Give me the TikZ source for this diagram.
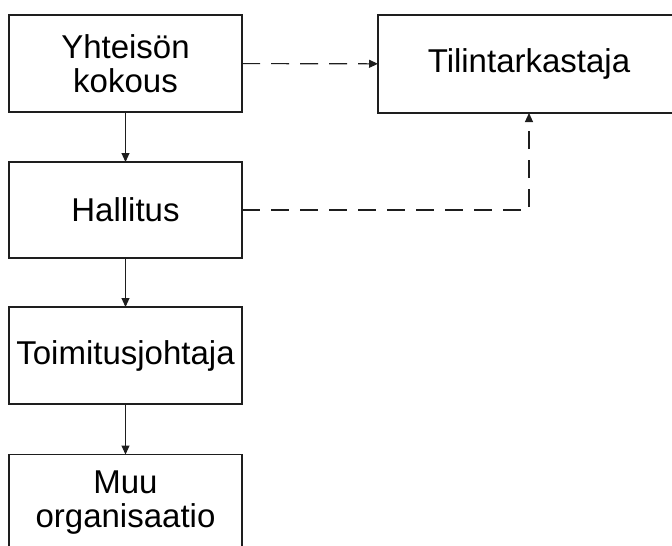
\documentclass[tikz,border=0pt]{standalone}
\usepackage{fontspec}
\setmainfont{Liberation Sans}
\usetikzlibrary{arrows.meta}
\definecolor{boxline}{RGB}{30, 30, 30}
\tikzset{
    orgbox/.style={draw=boxline, line width=1.1pt, rectangle, align=center,
        minimum width=233pt, minimum height=97pt, inner sep=0pt, outer sep=0pt,
        font=\fontsize{33}{34}\selectfont},
    flowline/.style={draw=boxline, line width=1.1pt,
        -{Triangle[length=9pt, width=8pt]}},
    auditline/.style={flowline, dash pattern=on 18pt off 11pt},
}
\begin{document}
\begin{tikzpicture}[x=1pt, y=-1pt]
        \useasboundingbox (0, 0) rectangle (672, 546);
        \clip (0, 0) rectangle (672, 546);
        \node[orgbox] (kokous) at (125.5, 63.5) {Yhteisön\\kokous};
        \node[orgbox, minimum width=302pt, minimum height=98pt] (tilin)
            at (529, 64) {Tilintarkastaja};
        \node[orgbox, minimum height=96pt] (hallitus) at (125.5, 210) {Hallitus};
        \node[orgbox] (toimitus) at (125.5, 355.5) {Toimitusjohtaja};
        \node[orgbox] (muu) at (125.5, 503) {Muu\\organisaatio};
        \draw[flowline] (kokous) -- (hallitus);
        \draw[flowline] (hallitus) -- (toimitus);
        \draw[flowline] (toimitus) -- (muu);
        \draw[auditline] (kokous) -- (tilin);
        \draw[auditline] (hallitus.east) -| (tilin.south);
    \end{tikzpicture}
\end{document}
